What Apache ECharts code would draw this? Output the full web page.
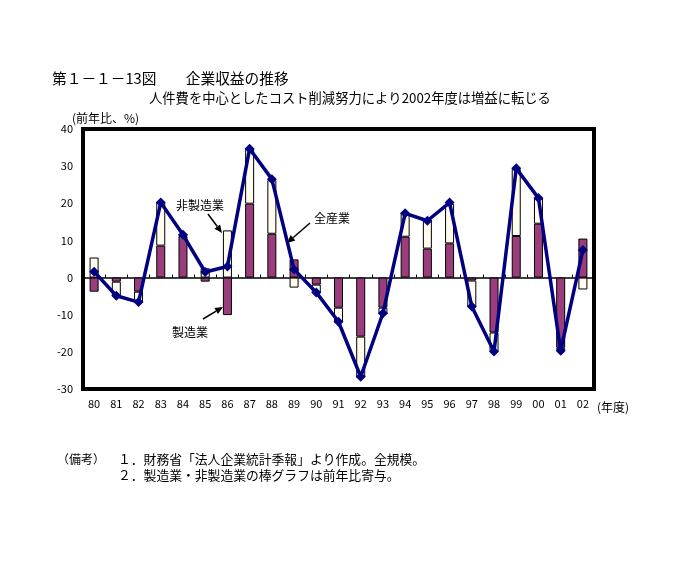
<!DOCTYPE html>
<html><head><meta charset="utf-8">
<script src="https://cdn.jsdelivr.net/npm/echarts@6/dist/echarts.min.js"></script>
<style>html,body{margin:0;padding:0;background:#fff}#c{width:688px;height:569px}</style>
</head><body><div id="c"></div>
<script>
const categories = ['80','81','82','83','84','85','86','87','88','89','90','91','92','93','94','95','96','97','98','99','00','01','02'];
const manufacturing = [-3.8,-1.1,-3.8,8.6,11.2,-1.1,-10.1,19.9,11.8,4.9,-1.9,-8.1,-15.9,-8.1,11.0,7.8,9.2,-0.8,-14.8,11.2,14.5,-18.9,10.5];
const nonManufacturing = [5.4,-4.0,-2.8,11.6,0.5,2.5,12.7,14.8,14.4,-2.7,-2.2,-4.0,-11.0,-1.8,6.5,7.5,10.7,-7.0,-5.1,18.0,6.9,-0.6,-3.2];
const allIndustries = [1.6,-4.9,-6.6,20.2,11.5,1.5,3.0,34.7,26.5,2.2,-4.0,-11.9,-26.7,-9.6,17.3,15.3,20.2,-7.8,-19.9,29.4,21.4,-19.7,7.4];
const yTicks = {min:-30, max:40, interval:10};

const FONT = '"Noto Sans CJK JP", sans-serif';
function arrow(x1,y1,x2,y2){
  const dx=x2-x1, dy=y2-y1, L=Math.hypot(dx,dy), ux=dx/L, uy=dy/L;
  const hl=8, hw=3.5;
  const bx=x2-ux*hl, by=y2-uy*hl;
  return [
    {type:'line', shape:{x1:x1,y1:y1,x2:bx,y2:by}, style:{stroke:'#000', lineWidth:1.5}},
    {type:'polygon', shape:{points:[[x2,y2],[bx-uy*hw,by+ux*hw],[bx+uy*hw,by-ux*hw]]}, style:{fill:'#000'}}
  ];
}
const chart = echarts.init(document.getElementById('c'));
chart.setOption({
  animation:false,
  backgroundColor:'#fff',
  textStyle:{fontFamily:FONT},
  grid:{left:83, right:94, top:129, bottom:180, show:true, borderColor:'#000', borderWidth:4, backgroundColor:'transparent'},
  xAxis:[
    {type:'category', data:categories, position:'bottom', axisLine:{show:false,onZero:false}, axisTick:{show:false},
     axisLabel:{color:'#000', fontSize:11, margin:9, fontFamily:FONT}},
    {type:'category', data:categories, position:'bottom', axisLine:{show:true,onZero:true,lineStyle:{color:'#000',width:1.5}},
     axisTick:{show:true,inside:true,length:3,lineStyle:{color:'#000'}}, axisLabel:{show:false}}
  ],
  yAxis:{type:'value', min:yTicks.min, max:yTicks.max, interval:yTicks.interval, splitLine:{show:false},
    axisLine:{show:false}, axisTick:{show:false}, axisLabel:{color:'#000', fontSize:11, margin:10, fontFamily:FONT}},
  series:[
    {name:'製造業', type:'bar', stack:'s', data:manufacturing, barWidth:9, itemStyle:{color:'#9B3D7D', borderColor:'#000', borderWidth:1}},
    {name:'非製造業', type:'bar', stack:'s', data:nonManufacturing, barWidth:9, itemStyle:{color:'#FFFBEF', borderColor:'#000', borderWidth:1}},
    {name:'全産業', type:'line', data:allIndustries, symbol:'diamond', symbolSize:10, z:5,
     lineStyle:{color:'#000080', width:3.5}, itemStyle:{color:'#000080'}}
  ],
  graphic:[
    {type:'text', left:52, top:71, style:{text:'第１－１－13図　　企業収益の推移', font:'14.7px '+FONT, fill:'#000'}},
    {type:'text', left:149, top:91, style:{text:'人件費を中心としたコスト削減努力により2002年度は増益に転じる', font:'13.3px '+FONT, fill:'#000'}},
    {type:'text', left:72, top:112, style:{text:'(前年比、%)', font:'12px '+FONT, fill:'#000'}},
    {type:'text', left:597, top:401, style:{text:'(年度)', font:'12px '+FONT, fill:'#000'}},
    {type:'text', left:176, top:199, style:{text:'非製造業', font:'12px '+FONT, fill:'#000'}},
    {type:'text', left:172, top:326, style:{text:'製造業', font:'12px '+FONT, fill:'#000'}},
    {type:'text', left:314, top:212, style:{text:'全産業', font:'12px '+FONT, fill:'#000'}},
    ...arrow(208,214,222,233),
    ...arrow(203,319,223,307),
    ...arrow(310,223,287,243),
    {type:'text', left:57, top:453, style:{text:'（備考）', font:'12px '+FONT, fill:'#000'}},
    {type:'text', left:118, top:453, style:{text:'１．財務省「法人企業統計季報」より作成。全規模。', font:'12.8px '+FONT, fill:'#000'}},
    {type:'text', left:118, top:469, style:{text:'２．製造業・非製造業の棒グラフは前年比寄与。', font:'12.8px '+FONT, fill:'#000'}}
  ]
});
</script></body></html>
